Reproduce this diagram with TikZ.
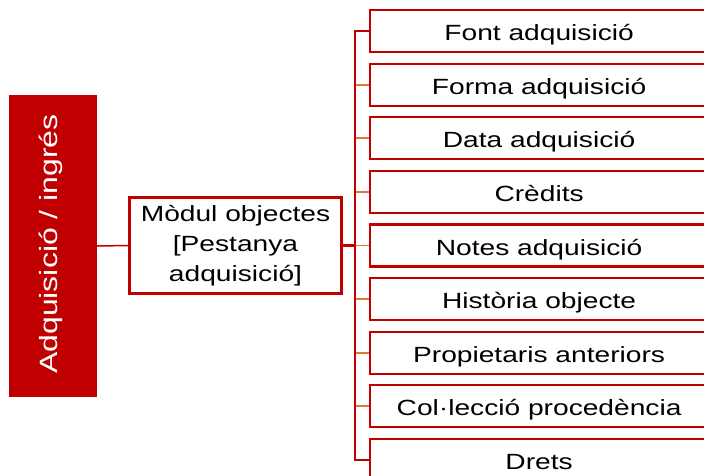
\documentclass[tikz,border=0pt]{standalone}
\usepackage{fontspec}
\newfontfamily\widefont{Liberation Sans}[FakeStretch=1.28]
\definecolor{dred}{HTML}{C00000}
\definecolor{lorange}{HTML}{E07A3A}
\begin{document}
\begin{tikzpicture}[x=1pt,y=-1pt,
  rbox/.style={draw=dred, line width=2.2pt, fill=white, minimum width=338pt, minimum height=42pt,
    inner sep=0pt, anchor=west, text height=20pt, text depth=1pt,
    font=\widefont\fontsize{22}{30}\selectfont, text=black},
  midbox/.style={draw=dred, line width=2.2pt, fill=white, minimum width=212pt, minimum height=96pt,
    inner sep=0pt, align=center, font=\widefont\fontsize{22}{30}\selectfont, text=black},
  catbox/.style={fill=dred, minimum width=88pt, minimum height=302pt, inner sep=0pt},
  trunk/.style={draw=dred, line width=2.2pt},
  branch/.style={draw=lorange, line width=1.8pt},
  thinline/.style={draw=dred, line width=1.5pt}]
\useasboundingbox (0,0) rectangle (704,476);
\clip (0,0) rectangle (704,476);
\fill[white] (0,0) rectangle (704,476);
\node[catbox] (cat) at (53,246) {};
\node[text=white, rotate=90, font=\widefont\fontsize{25}{28}\selectfont] (cattext) at (51,244) {Adquisició / ingrés};
\node[midbox] (mid) at (235.5,245.5) {Mòdul objectes\\[0pt] [Pestanya\\[0pt] adquisició]};
\coordinate (tx) at (355,0);
\node[rbox] (b1) at (369,31) {Font adquisició};
\node[rbox] (b2) at (369,85) {Forma adquisició};
\node[rbox] (b3) at (369,138) {Data adquisició};
\node[rbox] (b4) at (369,192) {Crèdits};
\node[rbox] (b5) at (369,245.5) {Notes adquisició};
\node[rbox] (b6) at (369,299) {Història objecte};
\node[rbox] (b7) at (369,353) {Propietaris anteriors};
\node[rbox] (b8) at (369,406) {Col·lecció procedència};
\node[rbox] (b9) at (369,460) {Drets};
\draw[thinline] (cat.east) -- (mid.west);
\foreach \b in {b2,b3,b4,b5,b6,b7,b8} {
  \draw[branch] (\b.west -| tx) -- (\b.west);
}
\draw[trunk] (b1.west) -- (b1.west -| tx) -- (b9.west -| tx) -- (b9.west);
\draw[trunk] (mid.east) -- (mid.east -| tx);
\end{tikzpicture}
\end{document}
